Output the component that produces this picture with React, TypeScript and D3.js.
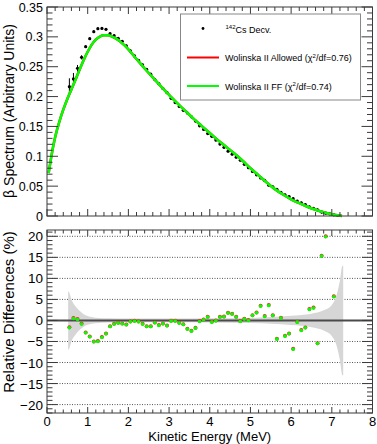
import React from 'react';
import * as d3 from 'd3';

const W = 377;
const H = 444;
const FONT = '"Liberation Sans", Arial, Helvetica, sans-serif';

// 142Cs measured spectrum (MeV, arbitrary units)
const dataE = [0.55, 0.65, 0.75, 0.85, 0.95, 1.05, 1.15, 1.25, 1.35, 1.45, 1.55, 1.65, 1.75, 1.85, 1.95,
  2.05, 2.15, 2.25, 2.35, 2.45, 2.55, 2.65, 2.75, 2.85, 2.95, 3.05, 3.15, 3.25, 3.35, 3.45, 3.55, 3.65,
  3.75, 3.85, 3.95, 4.05, 4.15, 4.25, 4.35, 4.45, 4.55, 4.65, 4.75, 4.85, 4.95, 5.05, 5.15, 5.25, 5.35,
  5.45, 5.55, 5.65, 5.75, 5.85, 5.95, 6.05, 6.15, 6.25, 6.35, 6.45, 6.55, 6.65, 6.75, 6.85, 6.95, 7.05, 7.15];
const dataY = [0.2166, 0.2295, 0.2474, 0.2657, 0.2836, 0.297, 0.3087, 0.3137, 0.3142, 0.3126, 0.3053, 0.302,
  0.2976, 0.2926, 0.285, 0.2765, 0.268, 0.2605, 0.253, 0.2455, 0.2375, 0.2285, 0.2215, 0.2135, 0.2065,
  0.197, 0.19, 0.1835, 0.177, 0.1725, 0.166, 0.159, 0.151, 0.145, 0.138, 0.1335, 0.1272, 0.1205, 0.115,
  0.1085, 0.1035, 0.0985, 0.0935, 0.0865, 0.081, 0.0745, 0.069, 0.0638, 0.0595, 0.0517, 0.049, 0.0447,
  0.0395, 0.0355, 0.0325, 0.029, 0.025, 0.022, 0.019, 0.0152, 0.0127, 0.0104, 0.0065, 0.0047, 0.0035,
  0.0019, 0.0008];
const dataErr = [0.014, 0.01, 0.0055, 0.0035, 0.002, 0.002, 0.002, 0.002, 0.002, 0.002, 0.002, 0.002, 0.002,
  0.002, 0.002, 0.002, 0.002, 0.002, 0.002, 0.002, 0.002, 0.002, 0.002, 0.002, 0.002, 0.002, 0.002, 0.002,
  0.002, 0.002, 0.002, 0.002, 0.002, 0.002, 0.002, 0.002, 0.002, 0.002, 0.002, 0.002, 0.002, 0.002, 0.002,
  0.002, 0.002, 0.002, 0.002, 0.002, 0.002, 0.002, 0.002, 0.002, 0.002, 0.002, 0.002, 0.002, 0.002, 0.002,
  0.002, 0.002, 0.002, 0.002, 0.002, 0.002, 0.002, 0.002, 0.002];

// Wolinska II fit curves (allowed and first-forbidden overlap)
const fitE = [0.04, 0.1, 0.15, 0.2, 0.3, 0.4, 0.5, 0.6, 0.7, 0.8, 0.9, 1.0, 1.1, 1.2, 1.3, 1.4, 1.5, 1.6,
  1.7, 1.8, 1.9, 2.0, 2.2, 2.4, 2.6, 2.8, 3.0, 3.2, 3.4, 3.6, 3.8, 4.0, 4.2, 4.4, 4.6, 4.8, 5.0, 5.2, 5.4,
  5.6, 5.8, 6.0, 6.2, 6.4, 6.6, 6.8, 7.0, 7.2, 7.25];
const allowedY = [0.072, 0.097, 0.116, 0.132, 0.157, 0.178, 0.196, 0.212, 0.228, 0.245, 0.261, 0.275,
  0.287, 0.2955, 0.3005, 0.3025, 0.3025, 0.3005, 0.297, 0.292, 0.286, 0.279, 0.263, 0.247, 0.232, 0.217,
  0.203, 0.189, 0.176, 0.163, 0.151, 0.139, 0.127, 0.116, 0.105, 0.093, 0.08, 0.068, 0.056, 0.045, 0.036,
  0.028, 0.0215, 0.0155, 0.0105, 0.0062, 0.003, 0.0006, 0.0];
const ffY = [0.072, 0.097, 0.116, 0.132, 0.157, 0.178, 0.196, 0.212, 0.228, 0.245, 0.261, 0.275,
  0.287, 0.2955, 0.3005, 0.3025, 0.3025, 0.3005, 0.297, 0.292, 0.286, 0.279, 0.263, 0.247, 0.232, 0.217,
  0.203, 0.189, 0.176, 0.163, 0.151, 0.139, 0.127, 0.116, 0.105, 0.093, 0.08, 0.068, 0.056, 0.045, 0.036,
  0.028, 0.0215, 0.0155, 0.0105, 0.0062, 0.003, 0.0006, 0.0];

// relative differences (%)
const residE = [0.55, 0.65, 0.75, 0.85, 0.95, 1.05, 1.15, 1.25, 1.35, 1.45, 1.55, 1.65, 1.75, 1.85, 1.95,
  2.05, 2.15, 2.25, 2.35, 2.45, 2.55, 2.65, 2.75, 2.85, 2.95, 3.05, 3.15, 3.25, 3.35, 3.45, 3.55, 3.65,
  3.75, 3.85, 3.95, 4.05, 4.15, 4.25, 4.35, 4.45, 4.55, 4.65, 4.75, 4.85, 4.95, 5.05, 5.15, 5.25, 5.35,
  5.45, 5.55, 5.65, 5.75, 5.85, 5.95, 6.05, 6.15, 6.25, 6.35, 6.45, 6.55, 6.65, 6.75, 6.85, 7.05];
const residAllowed = [-1.6, 0.6, 0.35, -0.75, -2.85, -3.8, -5.0, -4.9, -3.95, -3.1, -1.35, -0.8, -0.55,
  -0.7, -0.95, -0.25, -0.1, -0.25, -0.8, -1.35, -1.35, -0.5, -1.1, -0.7, -1.2, -0.1, -0.1, -0.55, -0.9,
  -2.0, -2.45, -1.75, -0.15, 0.25, 0.85, -0.3, 0.0, 0.85, 0.95, 1.85, 1.6, 0.85, -0.15, 0.4, 0.1, 1.25,
  1.9, 3.5, 1.05, 3.65, 1.25, -4.35, 0.65, -3.65, -3.1, -6.75, -0.3, -2.3, -1.65, 2.7, 3.05, -5.4, 15.4,
  20.0, 5.75];
const residFF = [-1.75, 0.48, 0.24, -0.87, -2.94, -3.89, -5.08, -5.0, -4.05, -3.17, -1.43, -0.87, -0.63,
  -0.79, -1.03, -0.32, -0.16, -0.32, -0.87, -1.43, -1.43, -0.56, -1.19, -0.79, -1.27, -0.16, -0.16, -0.63,
  -0.95, -2.06, -2.54, -1.83, -0.24, 0.16, 0.79, -0.4, -0.08, 0.79, 0.87, 1.75, 1.51, 0.79, -0.24, 0.32,
  0.0, 1.19, 1.83, 3.41, 0.95, 3.57, 1.19, -4.44, 0.56, -3.73, -3.17, -6.83, -0.4, -2.38, -1.75, 2.62,
  2.94, -5.48, 15.3, 19.9, 5.63];

// uncertainty band half-width (%)
const bandE = [0.52, 0.55, 0.6, 0.7, 0.8, 0.9, 1.0, 1.2, 1.5, 2.0, 3.0, 4.0, 5.0, 5.5, 6.0, 6.5, 6.8, 7.0,
  7.1, 7.2, 7.26, 7.28];
const bandHalf = [7.0, 6.6, 5.0, 3.4, 2.3, 1.5, 1.05, 0.65, 0.5, 0.45, 0.45, 0.5, 0.6, 0.8, 1.1, 1.6, 2.4,
  3.7, 5.5, 9.5, 13.0, 13.0];

const xTicks = [0, 1, 2, 3, 4, 5, 6, 7, 8];
const topYTicks = [0, 0.05, 0.1, 0.15, 0.2, 0.25, 0.3, 0.35];
const topYLabels = ['0', '0.05', '0.1', '0.15', '0.2', '0.25', '0.3', '0.35'];
const botYTicks = [-20, -15, -10, -5, 0, 5, 10, 15, 20];
const gridLevels = [-20, -15, -10, -5, 5, 10, 15, 20];

const L = 47, R = 372.5;
const topPanel = { y0: 7, y1: 216 };
const botPanel = { y0: 230, y1: 413 };
const frameColor = '#3a3a3a';

export default function App() {
  const x = d3.scaleLinear().domain([0, 8]).range([L, R]);
  const yTop = d3.scaleLinear().domain([0, 0.35]).range([topPanel.y1, topPanel.y0]);
  const yBot = d3.scaleLinear().domain([-22, 21.5]).range([botPanel.y1, botPanel.y0]);

  const xMinor = d3.range(0, 8.0001, 0.2);
  const topYMinor = d3.range(0, 0.3501, 0.01);
  const botYMinor = d3.range(-22, 21.6, 1);

  const line = (ys: number[]) =>
    d3.line<number>().x((_, i) => x(fitE[i])).y((d) => yTop(d)).curve(d3.curveMonotoneX)(ys) || '';

  const band = d3.area<number>()
    .x((_, i) => x(bandE[i]))
    .y0((d) => yBot(-d))
    .y1((d) => yBot(d))
    .curve(d3.curveMonotoneX)(bandHalf) || '';

  const fmtBot = d3.format('d');

  const frameTicks = (
    y: d3.ScaleLinear<number, number>,
    p: { y0: number; y1: number },
    yMaj: number[], yMin: number[], xl: [number, number], yl: [number, number], key: string
  ) => (
    <g key={key} stroke={frameColor} strokeWidth={1}>
      {xMinor.map((v, i) => {
        const major = Math.abs(v - Math.round(v)) < 1e-6;
        const len = major ? xl[0] : xl[1];
        return (
          <g key={'x' + i}>
            <line x1={x(v)} x2={x(v)} y1={p.y1} y2={p.y1 - len} />
            <line x1={x(v)} x2={x(v)} y1={p.y0} y2={p.y0 + len} />
          </g>
        );
      })}
      {yMin.map((v, i) => {
        const major = yMaj.some((m) => Math.abs(m - v) < 1e-6);
        const len = major ? yl[0] : yl[1];
        return (
          <g key={'y' + i}>
            <line x1={L} x2={L + len} y1={y(v)} y2={y(v)} />
            <line x1={R} x2={R - len} y1={y(v)} y2={y(v)} />
          </g>
        );
      })}
      <rect x={L} y={p.y0} width={R - L} height={p.y1 - p.y0} fill="none" />
    </g>
  );

  return (
    <svg width={W} height={H} style={{ position: 'absolute', left: 0, top: 0, background: '#fff' }}
      fontFamily={FONT}>
      <defs>
        <clipPath id="clipTop"><rect x={L} y={topPanel.y0} width={R - L} height={topPanel.y1 - topPanel.y0 + 2} /></clipPath>
        <clipPath id="clipBot"><rect x={L} y={botPanel.y0} width={R - L} height={botPanel.y1 - botPanel.y0} /></clipPath>
      </defs>

      {/* top panel */}
      <g clipPath="url(#clipTop)">
        {dataE.map((e, i) => (
          <line key={'eb' + i} x1={x(e)} x2={x(e)} y1={yTop(dataY[i] - dataErr[i])} y2={yTop(dataY[i] + dataErr[i])}
            stroke="#000" strokeWidth={1} />
        ))}
        {dataE.map((e, i) => (
          <circle key={'d' + i} cx={x(e)} cy={yTop(dataY[i])} r={1.6} fill="#000" />
        ))}
        <path d={line(allowedY)} fill="none" stroke="#ff0000" strokeWidth={2.5} />
        <path d={line(ffY)} fill="none" stroke="#00ff00" strokeWidth={2.5} />
      </g>
      {frameTicks(yTop, topPanel, topYTicks, topYMinor, [7, 4], [11, 5.5], 'tf')}
      {topYTicks.map((v, i) => (
        <text key={'tl' + i} x={43} y={yTop(v) + 4.5} fontSize={12.5} textAnchor="end" fill="#000">{topYLabels[i]}</text>
      ))}
      <text transform={`translate(14, 111) rotate(-90)`} fontSize={14} textAnchor="middle" fill="#000">
        β Spectrum (Arbitrary Units)
      </text>

      {/* legend */}
      <g>
        <rect x={180.5} y={14} width={180} height={86} fill="#fff" stroke="#888" strokeWidth={1} />
        <circle cx={203} cy={28.5} r={1.4} fill="#000" />
        <text x={225.5} y={32.5} fontSize={9} fill="#000">
          <tspan fontSize={6} dy={-3.5}>142</tspan>
          <tspan dy={3.5}>Cs Decv.</tspan>
        </text>
        <line x1={187} x2={219} y1={57.5} y2={57.5} stroke="#ff0000" strokeWidth={2} />
        <text x={225} y={61} fontSize={9} fill="#000">
          Wolinska II Allowed (χ<tspan fontSize={6} dy={-3.5}>2</tspan><tspan dy={3.5}>/df=0.76)</tspan>
        </text>
        <line x1={187} x2={219} y1={86} y2={86} stroke="#00ff00" strokeWidth={2} />
        <text x={225} y={89.5} fontSize={9} fill="#000">
          Wolinska II FF (χ<tspan fontSize={6} dy={-3.5}>2</tspan><tspan dy={3.5}>/df=0.74)</tspan>
        </text>
      </g>

      {/* bottom panel */}
      <g clipPath="url(#clipBot)">
        {gridLevels.map((v) => (
          <line key={'g' + v} x1={L} x2={R} y1={yBot(v)} y2={yBot(v)} stroke="#555" strokeWidth={1}
            strokeDasharray="1 1.5" />
        ))}
        <path d={band} fill="#d6d6d6" />
        <line x1={L} x2={R} y1={yBot(0)} y2={yBot(0)} stroke="#4a4a4a" strokeWidth={2} />
        {residE.map((e, i) => (
          <circle key={'ra' + i} cx={x(e)} cy={yBot(residAllowed[i])} r={2} fill="#ff2020" />
        ))}
        {residE.map((e, i) => (
          <circle key={'rf' + i} cx={x(e)} cy={yBot(residFF[i])} r={1.8} fill="#00ff00" />
        ))}
      </g>
      {frameTicks(yBot, botPanel, botYTicks, botYMinor, [6, 3.5], [10.5, 5.5], 'bf')}
      {botYTicks.map((v) => (
        <text key={'bl' + v} x={43} y={yBot(v) + 5} fontSize={13.5} textAnchor="end" fill="#000">{fmtBot(v)}</text>
      ))}
      {xTicks.map((v) => (
        <text key={'xl' + v} x={x(v)} y={426} fontSize={13} textAnchor="middle" fill="#000">{v}</text>
      ))}
      <text transform={`translate(14, 312) rotate(-90)`} fontSize={15} textAnchor="middle" fill="#000">
        Relative Differences (%)
      </text>
      <text x={(L + R) / 2} y={440.5} fontSize={13} textAnchor="middle" fill="#000">Kinetic Energy (MeV)</text>
    </svg>
  );
}
